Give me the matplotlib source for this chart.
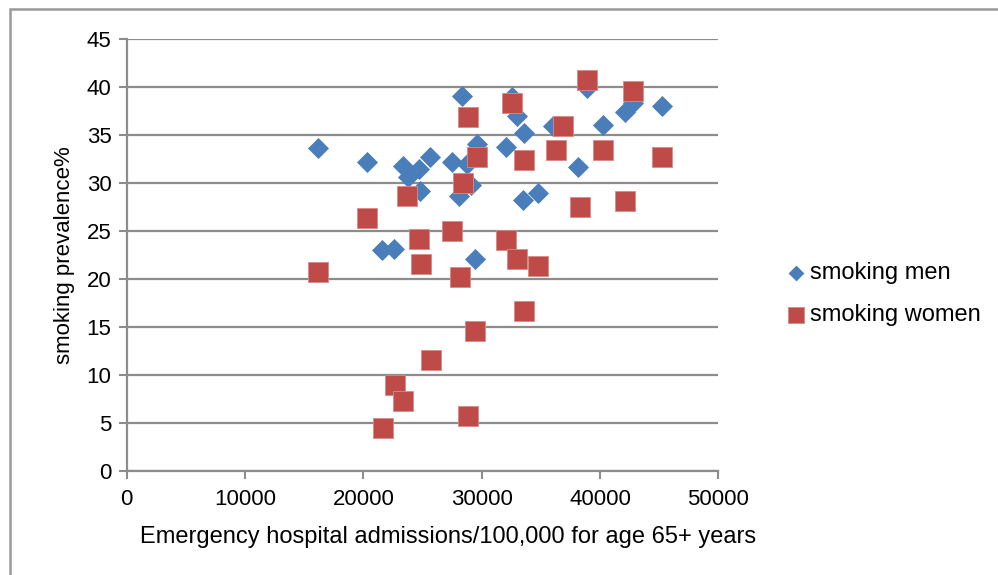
import matplotlib
matplotlib.use("Agg")
import matplotlib.pyplot as plt
from matplotlib.patches import Rectangle

plt.rcParams['font.family'] = ['Liberation Sans', 'DejaVu Sans']

# smoking men
men_x = [16145, 20287, 23381, 23750, 24710, 25665, 24793, 27473, 28793, 28318,
         29611, 29078, 28117, 32037, 32596, 33018, 33610, 33525, 34793, 36061,
         38175, 21580, 22620, 29417, 38935, 40288, 42121, 42825, 45224]
men_y = [33.6, 32.2, 31.8, 30.6, 31.4, 32.7, 29.2, 32.2, 32.0, 39.1,
         34.1, 29.8, 28.6, 33.7, 39.0, 37.0, 35.2, 28.2, 29.0, 35.9,
         31.7, 23.0, 23.1, 22.1, 39.9, 36.0, 37.4, 38.3, 38.0]

# smoking women
women_x = [16145, 20313, 23719, 24708, 24852, 27498, 28148, 28876, 28402, 29645,
           32596, 33610, 32062, 33018, 34793, 36264, 36906, 38318, 38935, 40288,
           42147, 42773, 45224, 33610, 29442, 25698, 22680, 23381, 21640, 28850]
women_y = [20.7, 26.3, 28.6, 24.2, 21.6, 25.0, 20.2, 36.9, 30.0, 32.7,
           38.3, 32.4, 24.1, 22.1, 21.3, 33.4, 35.9, 27.5, 40.7, 33.4,
           28.1, 39.6, 32.7, 16.7, 14.6, 11.6, 9.0, 7.3, 4.5, 5.7]

x_ticks = [0, 10000, 20000, 30000, 40000, 50000]
y_ticks = [0, 5, 10, 15, 20, 25, 30, 35, 40, 45]

grid_col = '#8c8c8c'

fig = plt.figure(figsize=(9.98, 5.75), dpi=100)
ax = fig.add_axes([0.127, 0.181, 0.5927, 0.7513])

ax.scatter(men_x, men_y, marker='D', s=115, color='#4a7ebb', label='smoking men',
           zorder=3, linewidths=0)
ax.scatter(women_x, women_y, marker='s', s=225, color='#be4b48', label='smoking women',
           zorder=3, edgecolors='#d98a88', linewidths=0.6)

ax.set_xlim(0, 50000)
ax.set_ylim(0, 45)
ax.set_xticks(x_ticks)
ax.set_yticks(y_ticks)
ax.tick_params(labelsize=16, colors=grid_col, labelcolor='black', length=6, width=1.5)
ax.tick_params(axis='x', pad=7)
ax.tick_params(axis='y', pad=5)
ax.yaxis.grid(True, color=grid_col, linewidth=1.6)
ax.set_axisbelow(True)
for side in ['top', 'right']:
    ax.spines[side].set_visible(False)
for side in ['left', 'bottom']:
    ax.spines[side].set_color(grid_col)
    ax.spines[side].set_linewidth(1.6)

ax.set_xlabel('Emergency hospital admissions/100,000 for age 65+ years', fontsize=17)
ax.xaxis.set_label_coords(0.543, -0.128)
ax.set_ylabel('smoking prevalence%', fontsize=16, labelpad=8)

ax.legend(loc='center left', bbox_to_anchor=(1.076, 0.41), frameon=False, fontsize=17,
          handletextpad=0.1, labelspacing=0.85, markerscale=0.75, handlelength=1.0)

# chart area border (runs past the right and bottom edges)
fig.patches.append(Rectangle((10 / 998, -0.1), 1.1, (575 - 9) / 575 + 0.1,
                             transform=fig.transFigure, fill=False,
                             edgecolor='#999999', linewidth=1.8))

fig.savefig('out.png', dpi=100)
